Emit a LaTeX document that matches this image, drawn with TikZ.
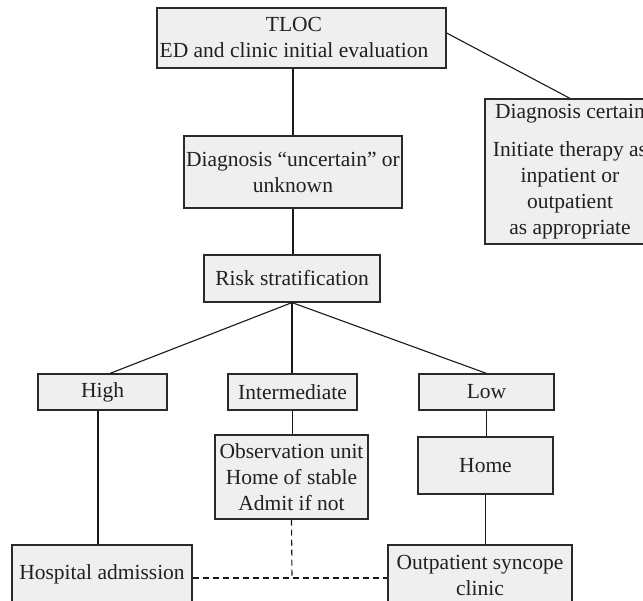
\documentclass[tikz,border=0pt]{standalone}
\usepackage{fontspec}
\setmainfont{Liberation Serif}
\definecolor{boxfill}{HTML}{EFEFEF}
\definecolor{boxline}{HTML}{2A2A2A}
\definecolor{txt}{HTML}{231F20}
\begin{document}
\begin{tikzpicture}[x=1pt,y=-1pt,
  box/.style={draw=boxline, fill=boxfill, line width=1.2pt, inner sep=0pt, align=center,
    text=txt, font=\fontsize{21.5}{26}\selectfont},
  lbl/.style={inner sep=0pt, align=center, text=txt, font=\fontsize{21.5}{26}\selectfont},
  conn/.style={draw=black!90, line width=1.1pt},
  dconn/.style={conn, dash pattern=on 6pt off 4pt}]
\useasboundingbox (0,0) rectangle (643,601);
\clip (0,0) rectangle (643,601);
% boxes
\node[box, minimum width=289, minimum height=60] (tloc) at (301.5,38) {};
\node[lbl] (tloctxt) at (294,37) {TLOC\\ED and clinic initial evaluation};
\node[box, minimum width=170, minimum height=145] (dcert) at (570,171.5)
  {Diagnosis certain\\[12pt]Initiate therapy as\\inpatient or\\outpatient\\as appropriate};
\node[box, minimum width=218, minimum height=72] (dunc) at (293,172) {Diagnosis “uncertain” or\\unknown};
\node[box, minimum width=176, minimum height=47] (risk) at (292,278.5) {Risk stratification};
\node[box, minimum width=129, minimum height=36] (high) at (102.5,392) {High};
\node[box, minimum width=129, minimum height=36] (inter) at (292.5,392) {Intermediate};
\node[box, minimum width=135, minimum height=36] (low) at (486.5,392) {Low};
\node[box, minimum width=153, minimum height=84] (obs) at (291.5,477) {Observation unit\\Home of stable\\Admit if not};
\node[box, minimum width=135, minimum height=57] (home) at (485.5,465.5) {Home};
\node[box, minimum width=180, minimum height=58] (hosp) at (102,574) {Hospital admission};
\node[box, minimum width=184, minimum height=60] (outp) at (480,575) {Outpatient syncope\\clinic};
\coordinate (dj) at (292,578);
% connectors
\draw[conn] (dunc.north |- tloc.south) -- (dunc.north);
\draw[conn] ([yshift=5pt]tloc.east) -- (dcert.north);
\draw[conn] (dunc.south) -- (dunc.south |- risk.north);
\draw[conn] (risk.south) -- ([xshift=7.5pt]high.north);
\draw[conn] (risk.south) -- (risk.south |- inter.north);
\draw[conn] (risk.south) -- (low.north);
\draw[conn] ([xshift=-4.5pt]high.south) -- ([xshift=-4.5pt]high.south |- hosp.north);
\draw[conn] (inter.south) -- (inter.south |- obs.north);
\draw[conn] (low.south) -- (low.south |- home.north);
\draw[conn] (home.south) -- (home.south |- outp.north);
\draw[dconn] (hosp.east |- dj) -- (outp.west |- dj);
\draw[dconn] (obs.south) -- (dj);
\end{tikzpicture}
\end{document}
